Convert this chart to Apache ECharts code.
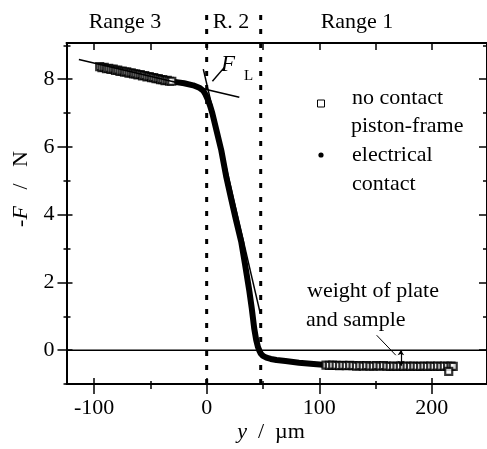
<!DOCTYPE html>
<html>
<head>
<meta charset="utf-8">
<script src="https://cdn.jsdelivr.net/npm/echarts@6/dist/echarts.min.js"></script>
<style>
  html, body { margin: 0; padding: 0; background: #fff; }
  #chart { width: 487px; height: 449px; }
</style>
</head>
<body>
<div id="chart"></div>
<script>
// axis ranges and ticks
const xMin = -124.5, xMax = 249;
const yMin = -1, yMax = 9.07;
const xMajor = [-100, 0, 100, 200];
const xMinor = [-50, 50, 150];
const yMajor = [0, 2, 4, 6, 8];
const yMinor = [-1, 1, 3, 5, 7, 9];

// no contact piston-frame (squares)
const squaresLeft = [
  [-95, 8.37], [-93, 8.34], [-91, 8.35], [-89, 8.31], [-87, 8.32], [-85, 8.29],
  [-83, 8.30], [-81, 8.26], [-79, 8.27], [-77, 8.23], [-75, 8.24], [-73, 8.21],
  [-71, 8.22], [-69, 8.18], [-67, 8.19], [-65, 8.16], [-63, 8.16], [-61, 8.13],
  [-59, 8.14], [-57, 8.10], [-55, 8.11], [-53, 8.07], [-51, 8.08], [-49, 8.05],
  [-47, 8.05], [-45, 8.02], [-43, 8.02], [-41, 7.99], [-39, 7.99], [-37, 7.96],
  [-35, 7.97], [-33, 7.94], [-31, 7.94]
];
const squaresRight = [
  [106, -0.44], [109, -0.45], [112, -0.44], [115, -0.45], [118, -0.46], [121, -0.45],
  [124, -0.46], [127, -0.45], [130, -0.46], [133, -0.47], [136, -0.46], [139, -0.47],
  [142, -0.46], [145, -0.47], [148, -0.47], [151, -0.46], [154, -0.47], [157, -0.46],
  [160, -0.47], [163, -0.48], [166, -0.47], [169, -0.48], [172, -0.47], [175, -0.48],
  [178, -0.47], [181, -0.48], [184, -0.47], [187, -0.48], [190, -0.48], [193, -0.47],
  [196, -0.48], [199, -0.47], [202, -0.48], [205, -0.47], [208, -0.48], [211, -0.47],
  [214, -0.48], [217, -0.47], [219, -0.48], [215, -0.63]
];

// electrical contact (dots)
const contactX = [-30, -20, -12, -6, -3, -1, 1, 3, 5, 9, 13, 17.5, 22, 26, 30.7, 34, 37.8,
  40, 42.2, 44, 45.5, 46.6, 48, 50, 53, 57, 62, 70, 82, 95, 106];
const contactY = [7.93, 7.88, 7.82, 7.74, 7.66, 7.55, 7.4, 7.22, 7.0, 6.45, 5.9, 5.1, 4.43,
  3.85, 3.2, 2.55, 1.77, 1.25, 0.65, 0.3, 0.1, 0.0, -0.1, -0.17, -0.22, -0.26, -0.29,
  -0.32, -0.37, -0.41, -0.44];

// fit lines
const fitFlat = [[-113.5, 8.58], [29, 7.47]];
const fitSteep = [[-3, 8.3], [47.5, 1.1]];

// range borders
const rangeBorders = [0, 48];

// annotations
const fLPointer = [[5.1, 7.94], [15.7, 8.35]];
const weightPointer = [[151, 0.44], [168, -0.15]];
const weightArrow = [[172.5, 0], [172.5, -0.46]];

const FONT = '"Liberation Serif", "DejaVu Serif", serif';
const FS = 22;
const black = '#000';

function xAx(opt) {
  return Object.assign({
    type: 'value', min: xMin, max: xMax, position: 'bottom',
    axisLine: { show: false, onZero: false },
    axisTick: { show: false },
    axisLabel: { show: false },
    splitLine: { show: false }
  }, opt);
}
function yAx(opt) {
  return Object.assign({
    type: 'value', min: yMin, max: yMax, position: 'left',
    axisLine: { show: false, onZero: false },
    axisTick: { show: false },
    axisLabel: { show: false },
    splitLine: { show: false }
  }, opt);
}
function tick(values, inside, len) {
  return { show: true, inside: inside, length: len, customValues: values,
    lineStyle: { color: black, width: 1.5 } };
}
function label(text, x, y, align) {
  return { type: 'text', x: x, y: y,
    style: { text: text, font: FS + 'px ' + FONT, fill: black, align: align || 'left', verticalAlign: 'middle' } };
}

const contactData = contactX.map((x, i) => [x, contactY[i]]);

const option = {
  animation: false,
  grid: { left: 66.5, top: 43, width: 422, height: 341 },
  xAxis: [
    xAx({
      axisLine: { show: true, onZero: false, lineStyle: { color: black, width: 2 } },
      axisTick: tick(xMajor, false, 10),
      axisLabel: { show: true, customValues: xMajor, margin: 13, color: black,
        fontSize: FS, fontFamily: FONT }
    }),
    xAx({ axisTick: tick(xMajor, true, 6) }),
    xAx({ axisTick: tick(xMinor, false, 5) }),
    xAx({ axisTick: tick(xMinor, true, 3) }),
    xAx({
      position: 'top',
      axisLine: { show: true, onZero: false, lineStyle: { color: black, width: 2 } },
      axisTick: tick(xMajor.concat(xMinor), true, 7)
    })
  ],
  yAxis: [
    yAx({
      axisLine: { show: true, onZero: false, lineStyle: { color: black, width: 2 } },
      axisTick: tick(yMajor, false, 9),
      axisLabel: { show: true, customValues: yMajor, margin: 12, color: black,
        fontSize: FS, fontFamily: FONT }
    }),
    yAx({ axisTick: tick(yMajor, true, 6) }),
    yAx({ axisTick: tick(yMinor, false, 3) }),
    yAx({ axisTick: tick(yMinor, true, 4) }),
    yAx({
      position: 'right',
      axisLine: { show: true, onZero: false, lineStyle: { color: black, width: 2 } },
      axisTick: tick(yMajor, true, 8)
    }),
    yAx({ position: 'right', axisTick: tick(yMinor, true, 4) })
  ],
  series: [
    {
      type: 'line', data: [[xMin, 0], [xMax, 0]], symbol: 'none',
      lineStyle: { color: black, width: 1.5 }, z: 1
    },
    ...rangeBorders.map(b => ({
      type: 'line', data: [[b, yMin], [b, 10]], symbol: 'none', clip: false,
      lineStyle: { color: black, width: 3, type: [5, 9] }, z: 1
    })),
    {
      type: 'line', data: fitFlat, symbol: 'none',
      lineStyle: { color: black, width: 1.5 }, z: 4
    },
    {
      type: 'line', data: fitSteep, symbol: 'none',
      lineStyle: { color: black, width: 1.5 }, z: 4
    },
    {
      name: 'electrical contact', type: 'line', data: contactData, symbol: 'none',
      lineStyle: { color: black, width: 6, join: 'round', cap: 'round' }, z: 3
    },
    {
      name: 'no contact piston-frame', type: 'scatter',
      data: squaresLeft.concat(squaresRight), symbol: 'rect', symbolSize: 7,
      itemStyle: { color: '#fff', borderColor: black, borderWidth: 2.2 }, z: 3
    },
    {
      type: 'line', data: fLPointer, symbol: 'none',
      lineStyle: { color: black, width: 1.5 }, z: 4
    },
    {
      type: 'line', data: weightPointer, symbol: 'none',
      lineStyle: { color: black, width: 1 }, z: 4
    },
    {
      type: 'line', data: [], symbol: 'none',
      markLine: {
        silent: true, symbol: ['arrow', 'arrow'], symbolSize: [5, 5],
        label: { show: false },
        lineStyle: { color: black, width: 1.2, type: 'solid' },
        data: [[{ coord: weightArrow[0] }, { coord: weightArrow[1] }]]
      }, z: 5
    }
  ],
  graphic: [
    label('Range 3', 125, 22, 'center'),
    label('R. 2', 231, 22, 'center'),
    label('Range 1', 357, 22, 'center'),
    // legend
    { type: 'rect', shape: { x: 317.5, y: 100, width: 7, height: 7 }, style: { fill: '#fff', stroke: black, lineWidth: 1 } },
    { type: 'circle', shape: { cx: 321, cy: 155, r: 2.6 }, style: { fill: black } },
    label('no contact', 352, 98),
    label('piston-frame', 351, 126.5),
    label('electrical', 352, 155),
    label('contact', 352, 184.5),
    // weight annotation
    label('weight of plate', 307, 291),
    label('and sample', 306, 320),
    // F_L
    { type: 'text', x: 221, y: 65, style: { text: 'F', font: 'italic 23px ' + FONT, fill: black, verticalAlign: 'middle' } },
    { type: 'text', x: 244, y: 76, style: { text: 'L', font: '15px ' + FONT, fill: black, verticalAlign: 'middle' } },
    // axis names
    {
      type: 'text', x: 271, y: 432,
      style: {
        text: '{i|y}  /  µm', font: FS + 'px ' + FONT, fill: black, align: 'center', verticalAlign: 'middle',
        rich: { i: { fontStyle: 'italic', fontSize: FS, fontFamily: FONT } }
      }
    },
    {
      type: 'text', x: 21, y: 189, rotation: Math.PI / 2,
      style: {
        text: '-{i|F}   /   N', font: FS + 'px ' + FONT, fill: black, align: 'center', verticalAlign: 'middle',
        rich: { i: { fontStyle: 'italic', fontSize: FS, fontFamily: FONT } }
      }
    }
  ]
};

const chart = echarts.init(document.getElementById('chart'));
chart.setOption(option);
</script>
</body>
</html>
